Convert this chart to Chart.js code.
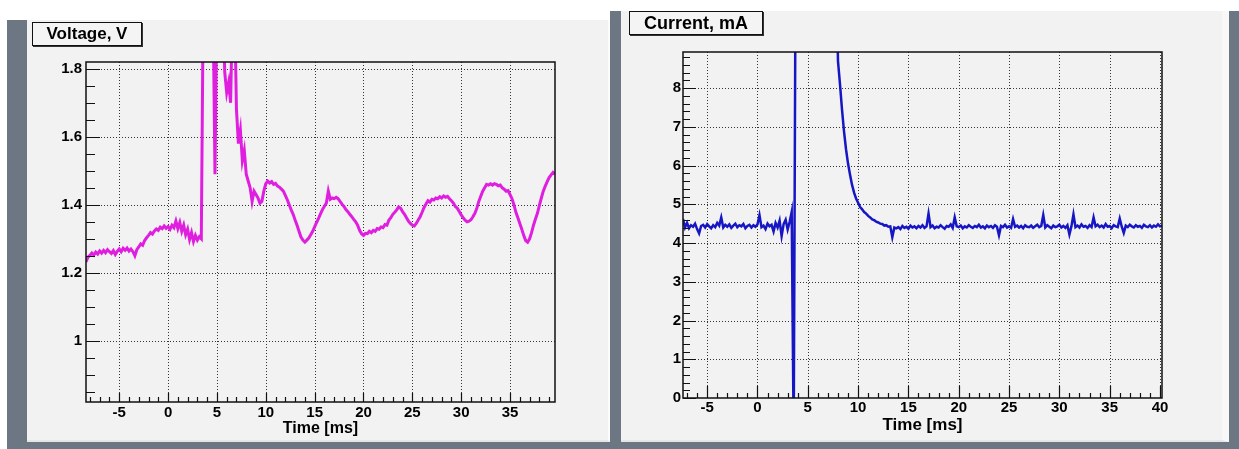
<!DOCTYPE html>
<html>
<head>
<meta charset="utf-8">
<script src="https://cdn.jsdelivr.net/npm/chart.js@4.4.1/dist/chart.umd.min.js"></script>
<style>
  body { margin: 0; background: #fff; }
  #wrap { position: relative; width: 1239px; height: 449px; overflow: hidden; font-family: 'Liberation Sans', Arial, sans-serif; }
  .dark { position: absolute; background: #6d7784; }
  .light { position: absolute; background: #f2f2f2; border-right: 2px solid #fbfbfb; border-bottom: 2px solid #e6e6e6; box-sizing: border-box; }
  .titlebox { position: absolute; box-sizing: border-box; border: 1px solid #111; box-shadow: 1px 1px 0 #333;
    background: #f4f4f4; font-weight: bold; color: #000; text-align: center; }
  canvas { position: absolute; }
</style>
</head>
<body>
<div id="wrap">
  <div class="dark" style="left:7px; top:20px; width:604px; height:429px;"></div>
  <div class="dark" style="left:610px; top:11px; width:629px; height:438px;"></div>
  <div class="light" style="left:27px; top:20px; width:583px; height:422px;"></div>
  <div class="light" style="left:621px; top:11px; width:608px; height:431px; border-right:7px solid #f8f8f8;"></div>

  <canvas id="volt-chart" width="582" height="421" style="left:27px; top:20px;"></canvas>
  <canvas id="curr-chart" width="601" height="430" style="left:621px; top:11px;"></canvas>

  <div class="titlebox" style="left:32px; top:22px; width:110px; height:24px; font-size:17px; line-height:22px;">Voltage, V</div>
  <div class="titlebox" style="left:629px; top:11px; width:134px; height:24px; font-size:18px; line-height:22px;">Current, mA</div>
</div>

<script>
// Voltage trace, sampled every 0.2 ms from -8.4 ms (values above 1.82 are off scale)
const voltStart = -8.4;
const voltStep = 0.2;
const voltValues = [
  1.232, 1.246, 1.251, 1.258, 1.252, 1.261, 1.255, 1.264, 1.258, 1.266,
  1.259, 1.268, 1.262, 1.257, 1.265, 1.254, 1.263, 1.270, 1.262, 1.272,
  1.266, 1.273, 1.264, 1.270, 1.262, 1.250, 1.268, 1.276, 1.285, 1.281,
  1.295, 1.303, 1.310, 1.318, 1.314, 1.323, 1.329, 1.325, 1.334, 1.330,
  1.338, 1.331, 1.336, 1.328, 1.340, 1.333, 1.352, 1.330, 1.348, 1.322,
  1.340, 1.312, 1.328, 1.298, 1.318, 1.292, 1.310, 1.296, 1.306, 1.300,
  2.0, 2.0, 2.0, 2.0, 2.0, 2.0, 1.49, 2.0, 2.0, 2.0,
  2.0, 1.79, 1.73, 1.76, 1.70, 2.0, 2.0, 1.68, 1.58, 1.62,
  1.53, 1.56, 1.49, 1.47, 1.45, 1.41, 1.44, 1.43, 1.42, 1.405,
  1.41, 1.44, 1.462, 1.470, 1.464, 1.468, 1.460, 1.463, 1.455, 1.452,
  1.446, 1.440, 1.428, 1.415, 1.400, 1.385, 1.372, 1.355, 1.340, 1.322,
  1.305, 1.296, 1.290, 1.296, 1.302, 1.312, 1.322, 1.335, 1.348, 1.360,
  1.373, 1.386, 1.396, 1.405, 1.440, 1.416, 1.420, 1.418, 1.422, 1.418,
  1.410, 1.402, 1.395, 1.386, 1.380, 1.372, 1.365, 1.357, 1.350, 1.340,
  1.325, 1.315, 1.310, 1.316, 1.315, 1.322, 1.318, 1.325, 1.322, 1.330,
  1.328, 1.335, 1.333, 1.342, 1.340, 1.355, 1.362, 1.372, 1.378, 1.385,
  1.394, 1.390, 1.380, 1.372, 1.362, 1.352, 1.345, 1.340, 1.338, 1.345,
  1.355, 1.365, 1.378, 1.392, 1.402, 1.412, 1.408, 1.416, 1.414, 1.420,
  1.418, 1.424, 1.420, 1.426, 1.422, 1.425, 1.418, 1.412, 1.405, 1.395,
  1.390, 1.380, 1.370, 1.362, 1.355, 1.350, 1.352, 1.356, 1.365, 1.375,
  1.390, 1.410, 1.425, 1.440, 1.450, 1.460, 1.458, 1.462, 1.458, 1.462,
  1.460, 1.456, 1.458, 1.450, 1.446, 1.440, 1.442, 1.430, 1.418, 1.400,
  1.378, 1.362, 1.345, 1.328, 1.310, 1.295, 1.290, 1.300, 1.318, 1.340,
  1.358, 1.375, 1.398, 1.420, 1.440, 1.455, 1.468, 1.480, 1.488, 1.495,
  1.490
];

// Current trace, sampled every 0.2 ms from -7.4 ms (12 / -1 are off scale)
const currStart = -7.4;
const currStep = 0.2;
const currValues = [
  4.62, 4.40, 4.52, 4.38, 4.46, 4.42, 4.50, 4.36, 4.25, 4.44,
  4.47, 4.40, 4.49, 4.43, 4.38, 4.46, 4.41, 4.52, 4.45, 4.66,
  4.40, 4.47, 4.42, 4.48, 4.39, 4.45, 4.50, 4.41, 4.46, 4.43,
  4.49, 4.38, 4.44, 4.47, 4.40, 4.46, 4.42, 4.48, 4.72, 4.41,
  4.45, 4.36, 4.50, 4.43, 4.47, 4.30, 4.52, 4.40, 4.58, 4.18,
  4.49, 4.60, 4.35, 4.55,
  4.80, -1.0, 12.0,
  12.0, 12.0, 12.0, 12.0, 12.0, 12.0, 12.0, 12.0, 12.0, 12.0,
  12.0, 12.0, 12.0, 12.0, 12.0, 12.0, 12.0, 12.0, 12.0, 12.0,
  8.70, 8.10, 7.45, 6.88, 6.42, 6.05, 5.76, 5.50, 5.30, 5.15,
  5.04, 4.93, 4.87, 4.80, 4.76, 4.70, 4.66, 4.61, 4.59, 4.55,
  4.53, 4.50, 4.49, 4.45, 4.46, 4.42, 4.43, 4.15, 4.40, 4.38,
  4.41, 4.36, 4.44, 4.39, 4.42, 4.37, 4.45, 4.40, 4.43, 4.38,
  4.44, 4.40, 4.46, 4.39, 4.43, 4.76, 4.41, 4.45, 4.38, 4.42,
  4.40, 4.46, 4.41, 4.37, 4.44, 4.42, 4.48, 4.39, 4.66, 4.43,
  4.41, 4.45, 4.38, 4.43, 4.40, 4.46, 4.42, 4.39, 4.44, 4.41,
  4.47, 4.40, 4.43, 4.38, 4.45, 4.41, 4.44, 4.39, 4.46, 4.42,
  4.20, 4.44, 4.41, 4.47, 4.40, 4.43, 4.39, 4.62, 4.42, 4.45,
  4.40, 4.44, 4.38, 4.46, 4.42, 4.41, 4.45, 4.39, 4.43, 4.47,
  4.41, 4.44, 4.72, 4.40, 4.46, 4.42, 4.38, 4.45, 4.41, 4.43,
  4.47, 4.40, 4.44, 4.39, 4.46, 4.22, 4.43, 4.74, 4.41, 4.45,
  4.40, 4.48, 4.42, 4.44, 4.39, 4.46, 4.41, 4.66, 4.43, 4.47,
  4.41, 4.45, 4.40, 4.49, 4.42, 4.44, 4.38, 4.46, 4.43, 4.41,
  4.63, 4.42, 4.26, 4.45, 4.41, 4.47, 4.43, 4.40, 4.46, 4.42,
  4.44, 4.39, 4.47, 4.43, 4.41, 4.46, 4.40, 4.45, 4.42, 4.48,
  4.43, 4.45
];

// Axis ticks
const voltXTicks = [-5, 0, 5, 10, 15, 20, 25, 30, 35];
const voltXLabels = ['-5', '0', '5', '10', '15', '20', '25', '30', '35'];
const voltYTicks = [1, 1.2, 1.4, 1.6, 1.8];
const voltYLabels = ['1', '1.2', '1.4', '1.6', '1.8'];
const currXTicks = [-5, 0, 5, 10, 15, 20, 25, 30, 35, 40];
const currXLabels = ['-5', '0', '5', '10', '15', '20', '25', '30', '35', '40'];
const currYTicks = [0, 1, 2, 3, 4, 5, 6, 7, 8];
const currYLabels = ['0', '1', '2', '3', '4', '5', '6', '7', '8'];

const FONT = "'Liberation Sans', Arial, sans-serif";

function toPoints(start, step, values) {
    return values.map((v, i) => ({ x: +(start + i * step).toFixed(2), y: v }));
}

// grid, inward ticks and frame, ROOT style
const rootFrame = {
    id: 'rootFrame',
    beforeDatasetsDraw(chart, args, o) {
        const { ctx, chartArea: a, scales: { x, y } } = chart;
        ctx.save();
        ctx.strokeStyle = '#333';
        ctx.lineWidth = 1;
        ctx.setLineDash([1, 2]);
        ctx.beginPath();
        o.xTicks.forEach(v => {
            const px = Math.round(x.getPixelForValue(v)) + 0.5;
            ctx.moveTo(px, a.top); ctx.lineTo(px, a.bottom);
        });
        o.yTicks.forEach(v => {
            const py = Math.round(y.getPixelForValue(v)) + 0.5;
            if (py > a.bottom - 2) return;
            ctx.moveTo(a.left, py); ctx.lineTo(a.right, py);
        });
        ctx.stroke();
        ctx.restore();
    },
    afterDatasetsDraw(chart, args, o) {
        const { ctx, chartArea: a, scales: { x, y } } = chart;
        ctx.save();
        ctx.strokeStyle = '#111';
        ctx.lineWidth = 1.2;
        ctx.beginPath();
        for (let v = Math.ceil(x.min / o.xMinor) * o.xMinor; v <= x.max + 1e-9; v += o.xMinor) {
            const major = o.xTicks.some(t => Math.abs(t - v) < 1e-6);
            const px = Math.round(x.getPixelForValue(v)) + 0.5;
            ctx.moveTo(px, a.bottom); ctx.lineTo(px, a.bottom - (major ? o.xMajorLen : o.xMinorLen));
        }
        for (let v = Math.ceil(y.min / o.yMinor - 1e-9) * o.yMinor; v <= y.max + 1e-9; v += o.yMinor) {
            const major = o.yTicks.some(t => Math.abs(t - v) < 1e-6);
            const py = Math.round(y.getPixelForValue(v)) + 0.5;
            ctx.moveTo(a.left, py); ctx.lineTo(a.left + (major ? o.yMajorLen : o.yMinorLen), py);
        }
        ctx.stroke();
        ctx.lineWidth = 1.5;
        ctx.strokeRect(a.left, a.top, a.right - a.left, a.bottom - a.top);
        ctx.restore();
    }
};

function makeChart(canvasId, cfg) {
    const ctx = document.getElementById(canvasId).getContext('2d');
    return new Chart(ctx, {
        type: 'line',
        data: {
            datasets: [{
                data: cfg.points,
                borderColor: cfg.color,
                borderWidth: cfg.lineWidth,
                pointRadius: 0,
                tension: 0,
                clip: 0
            }]
        },
        options: {
            responsive: false,
            devicePixelRatio: 1,
            animation: false,
            events: [],
            layout: { padding: { left: 0, top: cfg.padTop, right: cfg.padRight, bottom: 0 } },
            plugins: {
                legend: { display: false },
                tooltip: { enabled: false },
                rootFrame: cfg.frame
            },
            scales: {
                x: {
                    type: 'linear',
                    min: cfg.xMin,
                    max: cfg.xMax,
                    grid: { display: false, drawTicks: false },
                    border: { display: false },
                    afterBuildTicks: s => { s.ticks = cfg.frame.xTicks.map(v => ({ value: v })); },
                    afterFit: s => { s.height = cfg.xAxisHeight; },
                    ticks: {
                        autoSkip: false,
                        maxRotation: 0,
                        padding: cfg.xLabelPad,
                        color: '#000',
                        font: { family: FONT, size: cfg.tickSize, weight: 'bold' },
                        callback: (v, i) => cfg.xLabels[i]
                    },
                    title: {
                        display: true,
                        text: 'Time [ms]',
                        color: '#000',
                        padding: { top: 0, bottom: cfg.titlePad },
                        font: { family: FONT, size: cfg.titleSize, weight: 'bold' }
                    }
                },
                y: {
                    type: 'linear',
                    min: cfg.yMin,
                    max: cfg.yMax,
                    grid: { display: false, drawTicks: false },
                    border: { display: false },
                    afterBuildTicks: s => { s.ticks = cfg.frame.yTicks.map(v => ({ value: v })); },
                    afterFit: s => { s.width = cfg.yAxisWidth; },
                    ticks: {
                        autoSkip: false,
                        padding: cfg.yLabelPad,
                        color: '#000',
                        font: { family: FONT, size: cfg.tickSize, weight: 'bold' },
                        callback: (v, i) => cfg.yLabels[i]
                    }
                }
            }
        },
        plugins: [rootFrame]
    });
}

makeChart('volt-chart', {
    points: toPoints(voltStart, voltStep, voltValues),
    color: '#e01ee0',
    lineWidth: 3,
    xMin: -8.4, xMax: 39.6, yMin: 0.82, yMax: 1.82,
    padTop: 42, padRight: 54, xAxisHeight: 39, yAxisWidth: 59,
    xLabelPad: 2, yLabelPad: 4, tickSize: 15, titleSize: 16, titlePad: 3,
    xLabels: voltXLabels, yLabels: voltYLabels,
    frame: { xTicks: voltXTicks, yTicks: voltYTicks, xMinor: 1, yMinor: 0.05,
             xMajorLen: 9, xMinorLen: 5, yMajorLen: 14, yMinorLen: 9 }
});

makeChart('curr-chart', {
    points: toPoints(currStart, currStep, currValues),
    color: '#1616c4',
    lineWidth: 2.5,
    xMin: -7.4, xMax: 40.2, yMin: 0, yMax: 8.93,
    padTop: 41, padRight: 60, xAxisHeight: 43, yAxisWidth: 62,
    xLabelPad: 1, yLabelPad: 2, tickSize: 15, titleSize: 17, titlePad: 5,
    xLabels: currXLabels, yLabels: currYLabels,
    frame: { xTicks: currXTicks, yTicks: currYTicks, xMinor: 1, yMinor: 0.2,
             xMajorLen: 12, xMinorLen: 5, yMajorLen: 13, yMinorLen: 7 }
});
</script>
</body>
</html>
